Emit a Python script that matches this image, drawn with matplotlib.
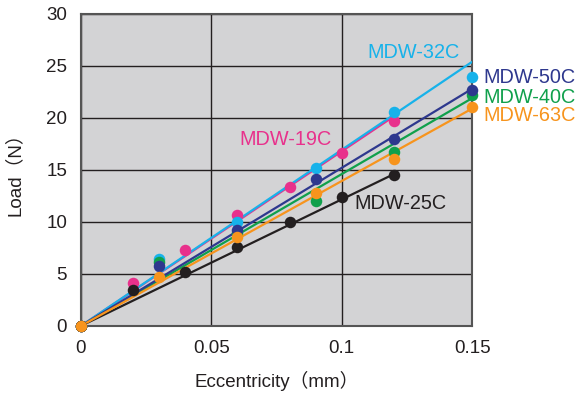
import matplotlib
matplotlib.use("Agg")
import matplotlib.pyplot as plt

series_names = ["MDW-19C", "MDW-32C", "MDW-40C", "MDW-50C", "MDW-25C", "MDW-63C"]
colors = ["#e8318c", "#17b2ea", "#10a04c", "#2e388e", "#231f20", "#f7941d"]

x_19 = [0, 0.02, 0.04, 0.06, 0.08, 0.10, 0.12]
y_19 = [0, 4.1, 7.3, 10.65, 13.4, 16.6, 19.7]
x_32 = [0, 0.03, 0.06, 0.09, 0.12, 0.15]
y_32 = [0, 6.4, 9.97, 15.2, 20.6, 23.97]
x_40 = [0, 0.03, 0.06, 0.09, 0.12, 0.15]
y_40 = [0, 6.15, 8.9, 12.0, 16.75, 22.2]
x_50 = [0, 0.03, 0.06, 0.09, 0.12, 0.15]
y_50 = [0, 5.77, 9.23, 14.13, 17.98, 22.7]
x_25 = [0, 0.02, 0.04, 0.06, 0.08, 0.10, 0.12]
y_25 = [0, 3.5, 5.15, 7.57, 10.0, 12.43, 14.52]
x_63 = [0, 0.03, 0.06, 0.09, 0.12, 0.15]
y_63 = [0, 4.74, 8.5, 12.75, 16.03, 21.0]

# fitted trend lines (start, end)
fit_x = [[0, 0.1185], [0, 0.15], [0, 0.15], [0, 0.15], [0, 0.12], [0, 0.15]]
fit_y = [[0, 19.9], [0, 25.4], [0, 21.9], [0, 22.8], [0, 14.6], [0, 20.9]]

xs = [x_19, x_32, x_40, x_50, x_25, x_63]
ys = [y_19, y_32, y_40, y_50, y_25, y_63]

x_ticks = [0, 0.05, 0.1, 0.15]
x_ticklabels = ["0", "0.05", "0.1", "0.15"]
y_ticks = [0, 5, 10, 15, 20, 25, 30]

FONT = ["Liberation Sans", "Noto Sans CJK JP", "DejaVu Sans"]
plt.rcParams["font.family"] = FONT

fig = plt.figure(figsize=(5.78, 3.96), dpi=100)
ax = fig.add_axes([0.140, 0.177, 0.677, 0.788])
ax.set_facecolor("#d3d3d5")

for fx, fy, c in zip(fit_x, fit_y, colors):
    ax.plot(fx, fy, color=c, lw=1.6, zorder=3, solid_capstyle="butt")
for x, y, c in zip(xs, ys, colors):
    ax.plot(x, y, ls="none", marker="o", ms=8.3, color=c, mec="none", zorder=4, clip_on=False)

ax.set_xlim(0, 0.15)
ax.set_ylim(0, 30)
ax.set_xticks(x_ticks)
ax.set_xticklabels(x_ticklabels)
ax.set_yticks(y_ticks)
ax.grid(True, color="#231f20", lw=1.0, zorder=1)
ax.set_axisbelow(True)
for s in ax.spines.values():
    s.set_color("#555555")
    s.set_linewidth(1.5)
ax.tick_params(length=0, labelsize=13.5, colors="#231f20", pad=10)

ax.set_xlabel("Eccentricity（mm）", fontsize=13.5, color="#231f20", labelpad=10)
ax.set_ylabel("Load（N）", fontsize=13.5, color="#231f20", labelpad=16)

lab_fs = 14.3
ax.text(0.1097, 26.3, "MDW-32C", color=colors[1], fontsize=lab_fs, va="center", ha="left")
ax.text(0.1541, 23.9, "MDW-50C", color=colors[3], fontsize=lab_fs, va="center", ha="left", clip_on=False)
ax.text(0.1541, 22.0, "MDW-40C", color=colors[2], fontsize=lab_fs, va="center", ha="left", clip_on=False)
ax.text(0.1541, 20.2, "MDW-63C", color=colors[5], fontsize=lab_fs, va="center", ha="left", clip_on=False)
ax.text(0.0606, 17.9, "MDW-19C", color=colors[0], fontsize=lab_fs, va="center", ha="left")
ax.text(0.1047, 11.8, "MDW-25C", color=colors[4], fontsize=lab_fs, va="center", ha="left")

fig.savefig("out.png", dpi=100)
